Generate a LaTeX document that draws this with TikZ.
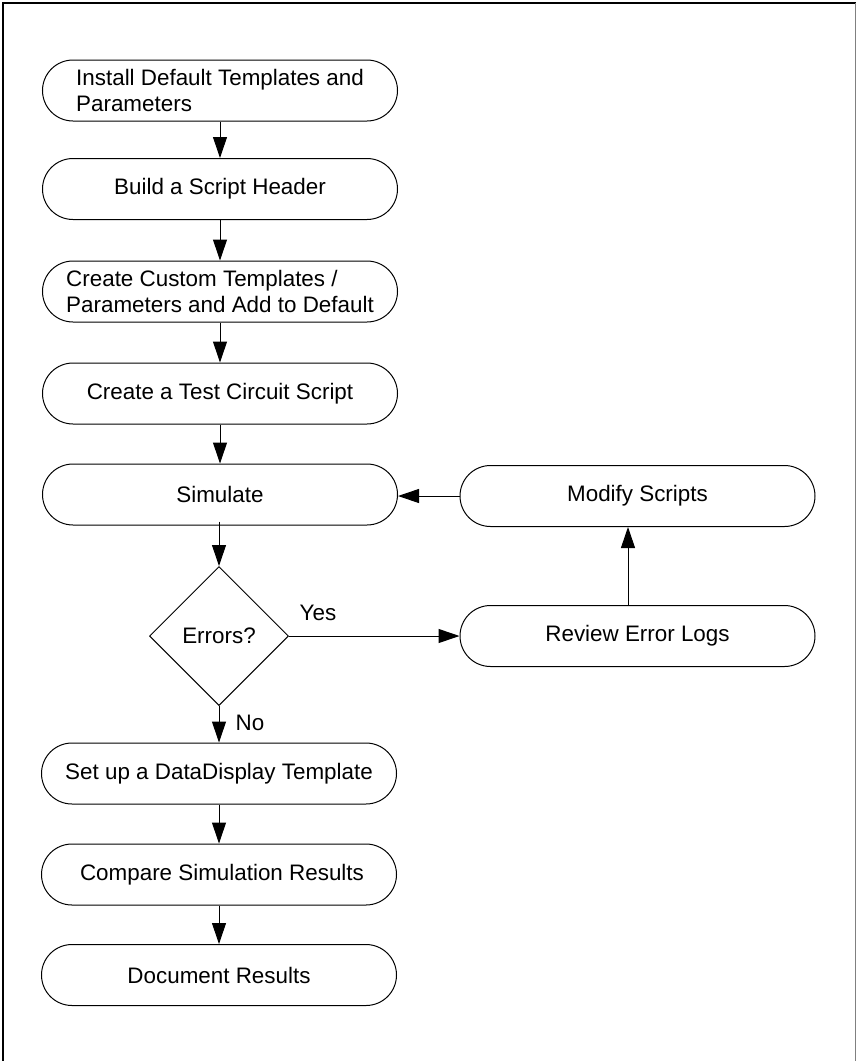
\documentclass[tikz,border=0pt]{standalone}
\usepackage{fontspec}
\setmainfont{Liberation Sans}
\usetikzlibrary{arrows.meta,shapes.geometric}
\begin{document}
\begin{tikzpicture}[x=1pt,y=-1pt,
  every node/.style={font=\fontsize{22.4pt}{26pt}\selectfont},
  stepbox/.style={draw,line width=1pt,rounded corners=30.5pt,
    minimum width=355pt,minimum height=61pt,inner sep=0pt,align=left},
  decision/.style={draw,line width=1pt,diamond,minimum width=139pt,
    minimum height=139pt,inner sep=0pt},
  flow/.style={line width=1pt,-{Triangle[length=21pt,width=14pt]}},
  lbl/.style={inner sep=0pt}]
\useasboundingbox (0,0) rectangle (857,1061);
% page frame, open at the bottom
\draw[line width=1.2pt] (3,1070) -- (3,3) -- (855.5,3);
\draw[line width=1.2pt,gray] (855.5,3) -- (855.5,1070);

% main column
\node[stepbox] (install) at (220,90.5) {Install Default Templates and\\Parameters};
\node[stepbox] (header)  at (220,189)  {Build a Script Header};
\node[stepbox] (custom)  at (220,291.5) {Create Custom Templates /\\Parameters and Add to Default};
\node[stepbox] (circuit) at (220,393.5) {Create a Test Circuit Script};
\node[stepbox] (sim)     at (220,494.5) {Simulate};
\node[decision] (err)    at (219,636)  {Errors?};
\node[stepbox] (dd)      at (219,773.5) {Set up a DataDisplay Template};
\node[stepbox] (cmp)     at (219,874.5) {\hspace*{6pt}Compare Simulation Results};
\node[stepbox] (doc)     at (219,975)  {Document Results};

% correction loop
\node[stepbox] (mod)     at (637.5,496) {Modify Scripts};
\node[stepbox] (rev)     at (637.5,636) {Review Error Logs};

% connectors
\draw[flow] (install.south -| 220,0) -- (header.north -| 220,0);
\draw[flow] (header.south -| 220,0) -- (custom.north -| 220,0);
\draw[flow] (custom.south -| 220,0) -- (circuit.north -| 220,0);
\draw[flow] (circuit.south -| 220,0) -- (sim.north -| 220,0);
\draw[flow] ([yshift=4pt]sim.south -| err.north) -- (err.north);
\draw[flow] (err.south) -- (dd.north);
\draw[flow] (dd.south) -- (cmp.north);
\draw[flow] (cmp.south) -- (doc.north);
\draw[flow] (err.east) -- (rev.west);
\draw[flow] (rev.north -| 628,0) -- (mod.south -| 628,0);
\draw[flow] (mod.west) -- (sim.east |- mod.west);

% branch labels
\node[lbl] (yes) at (318,613) {Yes};
\node[lbl] (no)  at (250,723) {No};
\end{tikzpicture}
\end{document}
